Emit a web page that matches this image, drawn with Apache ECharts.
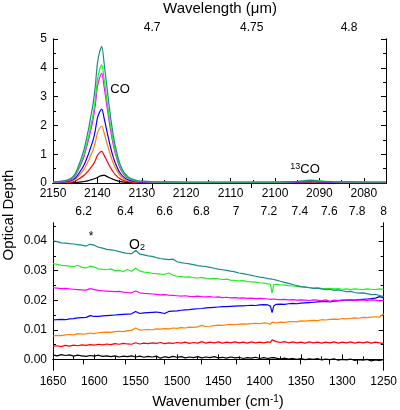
<!DOCTYPE html>
<html>
<head>
<meta charset="utf-8">
<script src="https://cdn.jsdelivr.net/npm/echarts@6/dist/echarts.min.js"></script>
<style>html,body{margin:0;padding:0;background:#fff;}#c{width:400px;height:410px;}</style>
</head>
<body>
<div id="c"></div>
<script>
// ---------- Top panel (CO stretch region) ----------
const topWn = [2150,2148,2146,2145,2144,2143,2142,2141.5,2141,2140.5,2140,2139.5,2139,2138.5,2138,2137.5,2137,2136.5,2136,2135,2134,2133,2132,2131,2130,2128,2120,2110,2100,2096,2094,2093,2092,2091,2090,2088,2085,2080,2075];
const topTeal = [0.04,0.064,0.158,0.322,0.698,1.168,1.873,2.296,2.719,3.33,4.153,4.552,4.74,4.176,3.518,2.86,2.249,1.732,1.309,0.698,0.369,0.205,0.125,0.087,0.064,0.045,0.035,0.035,0.035,0.045,0.065,0.08,0.09,0.085,0.07,0.05,0.04,0.035,0.035];
const topGreen = [0.035,0.055,0.137,0.279,0.604,1.011,1.62,1.986,2.352,2.881,3.592,3.937,4.10,3.612,3.043,2.474,1.946,1.498,1.133,0.604,0.32,0.177,0.108,0.076,0.055,0.04,0.03,0.03,0.032,0.045,0.07,0.09,0.1,0.095,0.08,0.055,0.04,0.035,0.035];
const topMagenta = [0.02,0.039,0.115,0.247,0.551,0.93,1.498,1.839,2.18,2.673,3.336,3.658,3.81,3.355,2.825,2.294,1.801,1.384,1.043,0.551,0.285,0.153,0.088,0.058,0.039,0.025,0.018,0.018,0.02,0.03,0.045,0.055,0.06,0.058,0.05,0.035,0.025,0.02,0.02];
const topBlue = [0.015,0.028,0.079,0.168,0.373,0.628,1.011,1.241,1.471,1.804,2.251,2.468,2.57,2.263,1.906,1.548,1.216,0.935,0.705,0.373,0.194,0.104,0.061,0.041,0.028,0.018,0.012,0.012,0.014,0.022,0.035,0.042,0.046,0.044,0.038,0.027,0.018,0.015,0.015];
const topOrange = [0.01,0.02,0.059,0.128,0.286,0.483,0.778,0.956,1.133,1.389,1.734,1.901,1.98,1.744,1.468,1.192,0.936,0.719,0.542,0.286,0.148,0.079,0.045,0.03,0.02,0.012,0.008,0.008,0.01,0.015,0.025,0.03,0.034,0.032,0.028,0.02,0.013,0.01,0.01];
const topRed = [0.005,0.01,0.032,0.071,0.158,0.268,0.432,0.531,0.629,0.772,0.963,1.056,1.10,0.969,0.815,0.662,0.52,0.399,0.301,0.158,0.082,0.043,0.025,0.016,0.01,0.006,0.004,0.004,0.005,0.008,0.013,0.016,0.018,0.017,0.015,0.011,0.007,0.005,0.005];
const topBlack = [0.002,0.003,0.007,0.013,0.029,0.053,0.085,0.107,0.131,0.155,0.19,0.237,0.259,0.27,0.238,0.2,0.163,0.128,0.098,0.056,0.029,0.015,0.009,0.006,0.004,0.002,0.001,0.001,0.001,0.002,0.003,0.004,0.004,0.004,0.003,0.002,0.002,0.001,0.001];
const topXTicks = [2150,2140,2130,2120,2110,2100,2090,2080];
const topXMinor = [2145,2135,2125,2115,2105,2095,2085,2075];
const topWlTicks = [4.7,4.75,4.8];

// ---------- Bottom panel (1650-1250 cm-1) ----------
const botWn = [1650,1645,1640,1635,1630,1625,1620,1615,1610,1605,1600,1595,1590,1585,1580,1575,1570,1565,1560,1555,1550,1545,1540,1535,1530,1525,1520,1515,1510,1505,1500,1495,1490,1485,1480,1475,1470,1465,1460,1455,1450,1445,1440,1435,1430,1425,1420,1415,1410,1405,1400,1395,1390,1387,1385,1383,1380,1375,1370,1365,1360,1355,1350,1345,1340,1335,1330,1325,1320,1315,1310,1305,1300,1295,1290,1285,1280,1275,1270,1265,1260,1255,1250];
const botTeal = [.0401,.0398,.0394,.0393,.0391,.0390,.0388,.0386,.0383,.0389,
 .0386,.0379,.0376,.0372,.0370,.0368,.0364,.0361,.0358,.0357,
 .0368,.0356,.0353,.0350,.0348,.0344,.0341,.0339,.0337,.0339,
 .0330,.0327,.0325,.0323,.0320,.0317,.0315,.0314,.0311,.0308,
 .0305,.0303,.0301,.0298,.0296,.0292,.0290,.0287,.0284,.0281,
 .0278,.0276,.0273,.0272,.0266,.0270,
 .0268,.0264,.0260,.0257,.0253,.0249,.0246,.0244,.0242,.0240,
 .0241,.0238,.0236,.0237,.0233,.0235,.0232,.0229,.0230,.0226,
 .0224,.0225,.0222,.0219,.0220,.0216,.0212];
const botGreen = [.0324,.0321,.0318,.0317,.0315,.0313,.0318,.0311,.0309,.0315,
 .0312,.0306,.0304,.0303,.0306,.0300,.0301,.0297,.0304,.0298,
 .0308,.0299,.0295,.0294,.0291,.0290,.0288,.0287,.0292,.0285,
 .0281,.0280,.0278,.0279,.0276,.0275,.0277,.0274,.0272,.0274,
 .0272,.0270,.0271,.0268,.0267,.0265,.0266,.0263,.0262,.0261,
 .0259,.0258,.0255,.0254,.0224,.0253,
 .0254,.0252,.0251,.0249,.0248,.0247,.0245,.0244,.0243,.0241,
 .0242,.0240,.0239,.0240,.0238,.0239,.0237,.0238,.0236,.0238,
 .0237,.0236,.0238,.0237,.0236,.0238,.0237];
const botMagenta = [.0242,.0241,.0239,.0240,.0238,.0237,.0236,.0235,.0234,.0239,
 .0236,.0233,.0232,.0231,.0230,.0229,.0230,.0227,.0226,.0225,
 .0231,.0225,.0223,.0222,.0221,.0220,.0218,.0219,.0217,.0216,
 .0215,.0214,.0215,.0213,.0212,.0214,.0212,.0211,.0212,.0210,
 .0211,.0209,.0210,.0208,.0209,.0207,.0208,.0206,.0207,.0205,
 .0206,.0205,.0204,.0203,.0200,.0204,
 .0203,.0202,.0203,.0201,.0202,.0200,.0201,.0200,.0199,.0201,
 .0200,.0198,.0201,.0196,.0200,.0199,.0201,.0200,.0202,.0199,
 .0201,.0200,.0199,.0201,.0200,.0198,.0199];
const botBlue = [.0133,.0134,.0135,.0134,.0137,.0138,.0140,.0141,.0142,.0148,
 .0145,.0145,.0147,.0148,.0149,.0150,.0151,.0152,.0153,.0154,
 .0162,.0155,.0157,.0158,.0159,.0160,.0158,.0155,.0162,.0163,
 .0164,.0166,.0167,.0168,.0170,.0171,.0172,.0174,.0175,.0176,
 .0177,.0178,.0178,.0179,.0180,.0181,.0181,.0182,.0183,.0182,
 .0184,.0185,.0184,.0180,.0158,.0180,
 .0186,.0187,.0186,.0188,.0189,.0188,.0190,.0191,.0192,.0193,
 .0194,.0195,.0196,.0194,.0197,.0198,.0199,.0200,.0201,.0200,
 .0202,.0203,.0204,.0205,.0207,.0212,.0208];
const botOrange = [.0079,.0081,.0080,.0083,.0084,.0083,.0087,.0085,.0086,.0089,
 .0087,.0090,.0091,.0092,.0091,.0094,.0095,.0094,.0097,.0098,
 .0106,.0099,.0100,.0101,.0100,.0103,.0102,.0104,.0103,.0106,
 .0105,.0107,.0106,.0109,.0108,.0110,.0115,.0111,.0112,.0114,
 .0116,.0115,.0117,.0118,.0117,.0119,.0120,.0119,.0121,.0122,
 .0121,.0123,.0122,.0118,.0126,.0124,
 .0123,.0126,.0125,.0127,.0128,.0127,.0130,.0129,.0131,.0132,
 .0131,.0134,.0133,.0135,.0136,.0135,.0138,.0137,.0139,.0140,
 .0139,.0142,.0141,.0143,.0144,.0143,.0153];
const botRed = [.0044,.0046,.0043,.0047,.0045,.0048,.0046,.0049,.0047,.0050,
 .0048,.0051,.0049,.0052,.0050,.0053,.0051,.0054,.0052,.0051,
 .0056,.0052,.0055,.0053,.0056,.0054,.0057,.0053,.0056,.0054,
 .0057,.0055,.0058,.0054,.0057,.0055,.0060,.0055,.0058,.0056,
 .0059,.0055,.0058,.0056,.0059,.0056,.0058,.0055,.0059,.0056,
 .0058,.0056,.0059,.0057,.0066,.0063,
 .0060,.0057,.0060,.0056,.0059,.0056,.0058,.0055,.0059,.0056,
 .0058,.0055,.0058,.0056,.0059,.0055,.0058,.0056,.0059,.0055,
 .0058,.0056,.0059,.0055,.0058,.0056,.0053];
const botBlack = [.0015,.0012,.0016,.0013,.0015,.0011,.0014,.0012,.0010,.0013,
 .0011,.0014,.0010,.0012,.0009,.0012,.0008,.0011,.0009,.0012,
 .0008,.0011,.0007,.0010,.0008,.0011,.0004,.0009,.0006,.0010,
 .0007,.0009,.0005,.0008,.0006,.0009,.0005,.0008,.0006,.0009,
 .0005,.0007,.0004,.0008,.0005,.0007,.0003,.0006,.0004,.0007,
 .0003,.0006,.0003,.0005,.0002,.0006,
 .0004,.0001,.0004,.0001,.0003,.0000,.0003,-.0001,.0002,.0000,
 .0003,-.0002,.0001,-.0001,.0002,-.0003,.0000,-.0002,.0001,-.0004,
 -.0001,-.0003,.0000,-.0005,-.0002,-.0004,-.0001];
const botYTicks = [0,0.01,0.02,0.03,0.04];
const botYMinor = [0.005,0.015,0.025,0.035,0.045];
const botWlTicks = [6.2,6.4,6.6,6.8,7,7.2,7.4,7.6,7.8,8];

const colors = {black:'#000000', red:'#ff0000', orange:'#ff8000', blue:'#0000ff', magenta:'#ff00ff', green:'#22ee22', teal:'#1a8a8a'};
const FONT = 'Liberation Sans, Arial, sans-serif';
const LBL = {color:'#000', fontFamily:FONT, fontSize:12};

const chart = echarts.init(document.getElementById('c'), null, {renderer:'canvas'});
const zip = (xs, ys) => xs.map((x,i)=>[x, ys[i]]);
const toWn = wl => wl.map(w => 10000 / w);
const wlFmt = v => String(+(10000 / v).toFixed(2));

function tickAx(base, vals, len, labelVals, fmt, margin){
  return Object.assign({
    type:'value', scale:false,
    axisLine:{show:true, lineStyle:{color:'#000', width:1}},
    axisTick:{show:true, inside:true, length:len, customValues:vals, lineStyle:{color:'#000', width:1}},
    axisLabel: labelVals ? Object.assign({show:true, customValues:labelVals, formatter:fmt, margin:margin}, LBL) : {show:false},
    splitLine:{show:false}, minorTick:{show:false}, minorSplitLine:{show:false}
  }, base);
}

const topRange = {min:2075, max:2150, inverse:true};
const botRange = {min:1250, max:1650, inverse:true};

const xAxis = [
  tickAx(Object.assign({gridIndex:0, position:'bottom'}, topRange), topXTicks, 5, topXTicks, v=>String(v), 5),
  tickAx(Object.assign({gridIndex:0, position:'bottom'}, topRange), topXMinor, 3, null),
  tickAx(Object.assign({gridIndex:0, position:'top'}, topRange), toWn(topWlTicks), 5, toWn(topWlTicks), wlFmt, 5),
  tickAx(Object.assign({gridIndex:1, position:'bottom'}, botRange), [1650,1600,1550,1500,1450,1400,1350,1300,1250], 5, [1650,1600,1550,1500,1450,1400,1350,1300,1250], v=>String(v), 6),
  tickAx(Object.assign({gridIndex:1, position:'bottom'}, botRange), [1625,1575,1525,1475,1425,1375,1325,1275], 3, null),
  tickAx(Object.assign({gridIndex:1, position:'top'}, botRange), toWn(botWlTicks), 5, toWn(botWlTicks), wlFmt, 5)
];
const topYR = {min:0, max:5};
const botYR = {min:-0.0036, max:0.0461};
const yAxis = [
  tickAx(Object.assign({gridIndex:0, position:'left'}, topYR), [0,1,2,3,4,5], 5, [0,1,2,3,4,5], v=>String(v), 6),
  tickAx(Object.assign({gridIndex:0, position:'left'}, topYR), [0.5,1.5,2.5,3.5,4.5], 3, null),
  tickAx(Object.assign({gridIndex:0, position:'right'}, topYR), [0,1,2,3,4,5], 5, null),
  tickAx(Object.assign({gridIndex:0, position:'right'}, topYR), [0.5,1.5,2.5,3.5,4.5], 3, null),
  tickAx(Object.assign({gridIndex:1, position:'left'}, botYR), botYTicks, 5, botYTicks, v=>v.toFixed(2), 6),
  tickAx(Object.assign({gridIndex:1, position:'left'}, botYR), botYMinor, 3, null),
  tickAx(Object.assign({gridIndex:1, position:'right'}, botYR), botYTicks, 5, null),
  tickAx(Object.assign({gridIndex:1, position:'right'}, botYR), botYMinor, 3, null)
];

function line(name, data, color, xi, yi, smooth){
  return {name, type:'line', xAxisIndex:xi, yAxisIndex:yi, data, showSymbol:false, symbol:'none',
    smooth: smooth ? 0.25 : false, lineStyle:{color, width:1.2}, itemStyle:{color}, animation:false, silent:true, clip:true};
}

const series = [
  line('black', zip(topWn, topBlack), colors.black, 0, 0, true),
  line('red', zip(topWn, topRed), colors.red, 0, 0, true),
  line('orange', zip(topWn, topOrange), colors.orange, 0, 0, true),
  line('blue', zip(topWn, topBlue), colors.blue, 0, 0, true),
  line('magenta', zip(topWn, topMagenta), colors.magenta, 0, 0, true),
  line('green', zip(topWn, topGreen), colors.green, 0, 0, true),
  line('teal', zip(topWn, topTeal), colors.teal, 0, 0, true),
  line('black', zip(botWn, botBlack), colors.black, 3, 4, false),
  line('red', zip(botWn, botRed), colors.red, 3, 4, false),
  line('orange', zip(botWn, botOrange), colors.orange, 3, 4, false),
  line('blue', zip(botWn, botBlue), colors.blue, 3, 4, false),
  line('magenta', zip(botWn, botMagenta), colors.magenta, 3, 4, false),
  line('green', zip(botWn, botGreen), colors.green, 3, 4, false),
  line('teal', zip(botWn, botTeal), colors.teal, 3, 4, false)
];

const T = (x, y, text, rich, extra) => Object.assign({type:'text', x, y, silent:true,
  style:{text, rich, fill:'#000', font:'13px ' + FONT, align:'center', verticalAlign:'middle'}}, extra||{});

const option = {
  animation:false,
  backgroundColor:'#fff',
  grid:[
    {left:53, top:39, width:333, height:144, containLabel:false},
    {left:53, top:223, width:333, height:147, containLabel:false}
  ],
  xAxis, yAxis, series,
  graphic:[
    T(220, 9, 'Wavelength (\u03bcm)', null, {style:{text:'Wavelength (\u03bcm)', fill:'#000', font:'15px ' + FONT, align:'center', verticalAlign:'middle'}}),
    T(218, 402, '{n|Wavenumber (cm}{s|-1}{n|)}', {n:{fontSize:15, fontFamily:FONT, color:'#000'}, s:{fontSize:10, fontFamily:FONT, color:'#000', verticalAlign:'top'}}),
    {type:'text', x:9, y:215, rotation:Math.PI/2, silent:true, style:{text:'Optical Depth', fill:'#000', font:'15px ' + FONT, align:'center', verticalAlign:'middle'}},
    T(120, 89, 'CO'),
    T(305, 169, '{s|13}{n|CO}', {n:{fontSize:13, fontFamily:FONT, color:'#000'}, s:{fontSize:9, fontFamily:FONT, color:'#000', verticalAlign:'top'}}),
    T(91, 237, '*', null, {style:{text:'*', fill:'#000', font:'12px ' + FONT, align:'center', verticalAlign:'middle'}}),
    T(137, 245, '{n|O}{s|2}', {n:{fontSize:14, fontFamily:FONT, color:'#000'}, s:{fontSize:9, fontFamily:FONT, color:'#000', verticalAlign:'bottom'}})
  ]
};
chart.setOption(option);
</script>
</body>
</html>
